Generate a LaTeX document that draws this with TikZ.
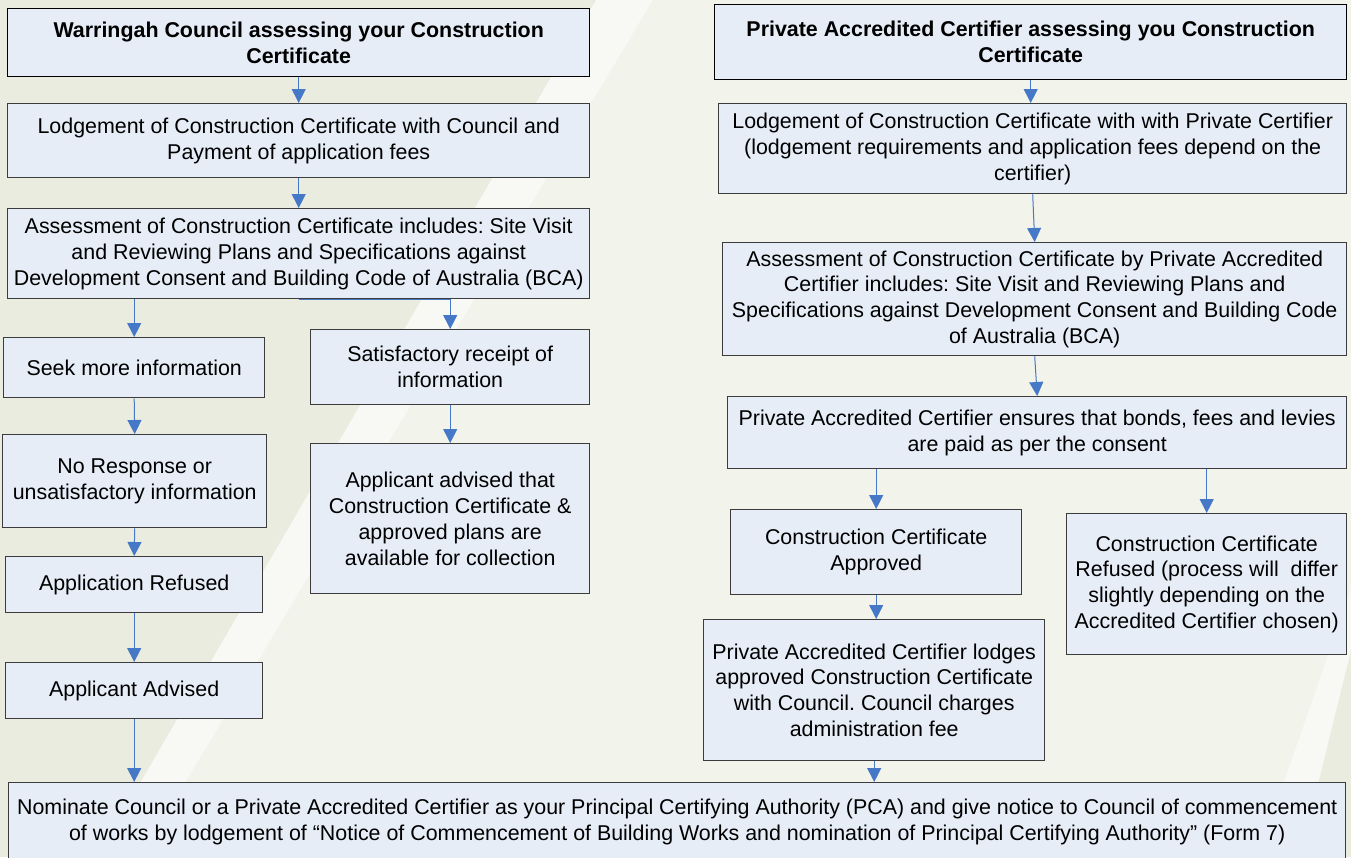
\documentclass[tikz,border=0pt]{standalone}
\usepackage{fontspec}
\setmainfont{Liberation Sans}
\usetikzlibrary{arrows.meta}
\definecolor{bgA}{RGB}{235,236,224}
\definecolor{bgB}{RGB}{242,243,235}
\definecolor{bgW}{RGB}{248,248,245}
\definecolor{boxfill}{RGB}{230,237,247}
\definecolor{boxline}{RGB}{60,60,60}
\definecolor{arrblue}{RGB}{70,120,200}
\frenchspacing
\begin{document}
\begin{tikzpicture}[x=1pt,y=-1pt,
  box/.style={draw=boxline, line width=1.4pt, fill=boxfill, align=center, inner sep=0pt,
    anchor=north west, font=\fontsize{21.4}{25.8}\selectfont},
  titlebox/.style={box, draw=black},
  arr/.style={draw=arrblue, line width=1pt, -{Triangle[width=14pt,length=14pt]}}
]
\useasboundingbox (0,0) rectangle (1351,857);
% background
\fill[bgA] (0,0) rectangle (1351,857);
\fill[bgB] (653,0) -- (141,857) -- (1258,857) -- (1351,588) -- (1351,0) -- cycle;
\fill[bgW] (596,0) -- (653,0) -- (141,857) -- (97,857) -- cycle;
\fill[bgW] (1258,857) -- (1351,588) -- (1351,650) -- (1300,857) -- cycle;

% left column
\node[titlebox, minimum width=582pt, minimum height=68pt] (L1) at (7,8)
  {\bfseries Warringah Council assessing your Construction\\\bfseries Certificate};
\node[box, minimum width=582pt, minimum height=74pt] (L2) at (7,103)
  {Lodgement of Construction Certificate with Council and\\Payment of application fees};
\node[box, minimum width=582pt, minimum height=90pt] (L3) at (7,208)
  {Assessment of Construction Certificate includes: Site Visit\\and Reviewing Plans and Specifications against\\Development Consent and Building Code of Australia (BCA)};
\node[box, minimum width=261pt, minimum height=60pt] (L4) at (3,337)
  {Seek more information};
\node[box, minimum width=264pt, minimum height=93pt] (L5) at (2,434)
  {No Response or\\unsatisfactory information};
\node[box, minimum width=257pt, minimum height=56pt] (L6) at (5,556)
  {Application Refused};
\node[box, minimum width=257pt, minimum height=56pt] (L7) at (5,662)
  {Applicant Advised};
\node[box, minimum width=279pt, minimum height=75pt] (L8) at (310,329)
  {Satisfactory receipt of\\information};
\node[box, minimum width=279pt, minimum height=150pt] (L9) at (310,443)
  {Applicant advised that\\Construction Certificate \&\\approved plans are\\available for collection};

% right column
\node[titlebox, minimum width=632pt, minimum height=75pt] (R1) at (714,4)
  {\bfseries Private Accredited Certifier assessing you Construction\\\bfseries Certificate};
\node[box, minimum width=628pt, minimum height=90pt] (R2) at (718,103)
  {Lodgement of Construction Certificate with with Private Certifier\\(lodgement requirements and application fees depend on the\\certifier)};
\node[box, minimum width=624pt, minimum height=113pt] (R3) at (722,242)
  {Assessment of Construction Certificate by Private Accredited\\Certifier includes: Site Visit and Reviewing Plans and\\Specifications against Development Consent and Building Code\\of Australia (BCA)};
\node[box, minimum width=619pt, minimum height=72pt] (R4) at (727,396)
  {Private Accredited Certifier ensures that bonds, fees and levies\\are paid as per the consent};
\node[box, minimum width=291pt, minimum height=85pt] (R5) at (730,509)
  {Construction Certificate\\Approved};
\node[box, minimum width=280pt, minimum height=141pt] (R6) at (1066,513)
  {Construction Certificate\\Refused (process will\ \ differ\\slightly depending on the\\Accredited Certifier chosen)};
\node[box, minimum width=341pt, minimum height=141pt] (R7) at (703,619)
  {Private Accredited Certifier lodges\\approved Construction Certificate\\with Council. Council charges\\administration fee};

% bottom
\node[box, minimum width=1337pt, minimum height=78pt] (B) at (8,782)
  {Nominate Council or a Private Accredited Certifier as your Principal Certifying Authority (PCA) and give notice to Council of commencement\\of works by lodgement of “Notice of Commencement of Building Works and nomination of Principal Certifying Authority” (Form 7)};

% connectors
\draw[arr] (L1.south) -- (L2.north);
\draw[arr] (L2.south) -- (L3.north);
\draw[arr] (L4.north |- L3.south) -- (L4.north);
\draw[arr] (L3.south) -| (L8.north);
\draw[arr] (L4.south) -- (L5.north);
\draw[arr] (L5.south) -- (L6.north);
\draw[arr] (L6.south) -- (L7.north);
\draw[arr] (L7.south) -- (L7.south |- B.north);
\draw[arr] (L8.south) -- (L9.north);
\draw[arr] (R1.south) -- (R1.south |- R2.north);
\draw[arr] (R2.south) -- (R3.north);
\draw[arr] (R3.south) -- (R4.north);
\draw[arr] (R5.north |- R4.south) -- (R5.north);
\draw[arr] (R6.north |- R4.south) -- (R6.north);
\draw[arr] (R5.south) -- (R5.south |- R7.north);
\draw[arr] (R7.south) -- (R7.south |- B.north);
\end{tikzpicture}
\end{document}
